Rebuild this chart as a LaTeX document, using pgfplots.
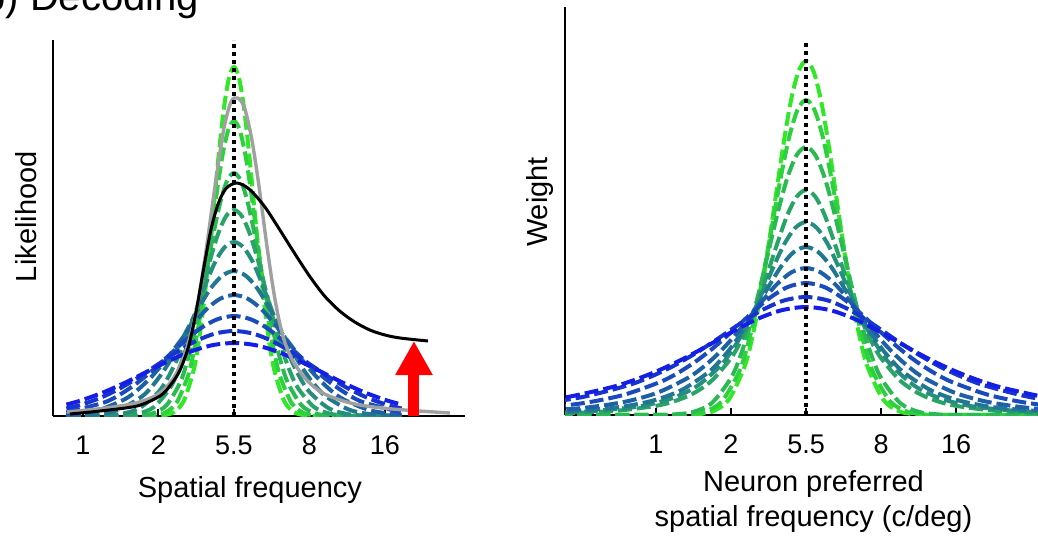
\documentclass[border=0pt]{standalone}
\usepackage{pgfplots}
\pgfplotsset{compat=1.18}
\usepackage{fontspec}
\setmainfont{Liberation Sans}
\usetikzlibrary{arrows.meta}
\definecolor{lg}{RGB}{50,230,40}
\definecolor{db}{RGB}{20,30,230}
\definecolor{gcurve}{RGB}{160,160,160}
\colorlet{c1}{db!0!lg}
\colorlet{c2}{db!11!lg}
\colorlet{c3}{db!22!lg}
\colorlet{c4}{db!33!lg}
\colorlet{c5}{db!44!lg}
\colorlet{c6}{db!56!lg}
\colorlet{c7}{db!67!lg}
\colorlet{c8}{db!78!lg}
\colorlet{c9}{db!89!lg}
\colorlet{c10}{db!100!lg}
\pgfplotsset{
  myaxis/.style={scale only axis, axis x line=bottom, axis y line=left,
    axis line style={-, line width=1.2pt}, ytick=\empty,
    xtick={0,1,2,3,4}, xticklabels={1,2,5.5,8,16},
    tick align=inside, major tick length=3.5pt,
    xtick style={line width=1pt,black},
    xticklabel style={font=\fontsize{13.5}{15}\selectfont, anchor=base, yshift=-19pt, inner sep=0pt},
    label style={font=\fontsize{14.5}{17.5}\selectfont},
    /pgf/number format/assume math mode=true,
    ymin=0},
  dc/.style={line width=2pt, dash pattern=on 7pt off 2.5pt, smooth, no markers},
  dotl/.style={black, line width=2pt, dash pattern=on 2pt off 2pt, no markers},
}
\begin{document}
\begin{tikzpicture}
\useasboundingbox (0,0) rectangle (519pt,269pt);
\node[anchor=base west, inner sep=0pt, font=\fontsize{20}{24}\selectfont] at (-8.5pt,264pt) {b) Decoding};
\begin{axis}[myaxis, at={(26.5pt,61pt)}, anchor=south west, width=206pt, height=188pt,
  xmin=-0.397, xmax=5.06, ymax=376,
  xlabel={Spatial frequency}, ylabel={Likelihood},
  xlabel style={at={(axis description cs:0.478,0)}, anchor=north, yshift=-30pt, inner sep=0pt},
  ylabel style={at={([xshift=-13.5pt]axis description cs:0,0.53)}, anchor=center, inner sep=0pt}]
\addplot[dc, c1] coordinates {(-0.22,0) (0.94,0.1) (1.072,0.8) (1.205,3.9) (1.337,15.3) (1.47,47.2) (1.536,75.5) (1.602,113.3) (1.669,159.8) (1.735,211.7) (1.801,263.4) (1.867,308.0) (1.934,338.3) (2,349) (2.066,338.3) (2.133,308.0) (2.199,263.4) (2.265,211.7) (2.331,159.8) (2.398,113.3) (2.464,75.5) (2.53,47.2) (2.663,15.3) (2.795,3.9) (2.928,0.8) (3.06,0.1) (4.22,0)};
\addplot[dc, c2] coordinates {(-0.22,0) (0.78,0.1) (0.932,0.6) (1.085,3.3) (1.237,13.0) (1.39,39.9) (1.466,63.8) (1.542,95.8) (1.619,135.1) (1.695,178.9) (1.771,222.7) (1.847,260.3) (1.924,285.9) (2,295) (2.076,285.9) (2.153,260.3) (2.229,222.7) (2.305,178.9) (2.381,135.1) (2.458,95.8) (2.534,63.8) (2.61,39.9) (2.763,13.0) (2.915,3.3) (3.068,0.6) (3.22,0.1) (4.22,0)};
\addplot[dc, c3] coordinates {(-0.22,0) (0.568,0.1) (0.747,0.5) (0.926,2.7) (1.105,10.7) (1.284,32.9) (1.373,52.6) (1.463,78.9) (1.552,111.2) (1.642,147.4) (1.731,183.4) (1.821,214.4) (1.91,235.5) (2,243) (2.09,235.5) (2.179,214.4) (2.269,183.4) (2.358,147.4) (2.448,111.2) (2.537,78.9) (2.627,52.6) (2.716,32.9) (2.895,10.7) (3.074,2.7) (3.253,0.5) (3.432,0.1) (4.22,0)};
\addplot[dc, c4] coordinates {(-0.22,0) (0.304,0.1) (0.516,0.5) (0.728,2.3) (0.94,9.0) (1.152,27.9) (1.258,44.6) (1.364,66.9) (1.47,94.3) (1.576,124.9) (1.682,155.5) (1.788,181.8) (1.894,199.7) (2,206) (2.106,199.7) (2.212,181.8) (2.318,155.5) (2.424,124.9) (2.53,94.3) (2.636,66.9) (2.742,44.6) (2.848,27.9) (3.06,9.0) (3.272,2.3) (3.484,0.5) (3.696,0.1) (4.22,0)};
\addplot[dc, c5] coordinates {(-0.22,0) (0.239,0.4) (0.491,1.9) (0.742,7.6) (0.994,23.5) (1.12,37.6) (1.245,56.5) (1.371,79.7) (1.497,105.5) (1.623,131.3) (1.748,153.6) (1.874,168.6) (2,174) (2.126,168.6) (2.252,153.6) (2.377,131.3) (2.503,105.5) (2.629,79.7) (2.755,56.5) (2.88,37.6) (3.006,23.5) (3.258,7.6) (3.509,1.9) (3.761,0.4) (4.22,0)};
\addplot[dc, c6] coordinates {(-0.22,0.2) (0.173,1.6) (0.477,6.4) (0.782,19.6) (0.934,31.4) (1.086,47.1) (1.239,66.4) (1.391,87.9) (1.543,109.4) (1.695,128.0) (1.848,140.5) (2,145) (2.152,140.5) (2.305,128.0) (2.457,109.4) (2.609,87.9) (2.761,66.4) (2.914,47.1) (3.066,31.4) (3.218,19.6) (3.523,6.4) (3.827,1.6) (4.22,0.2)};
\addplot[dc, c7] coordinates {(-0.22,1.2) (0.18,5.3) (0.544,16.4) (0.726,26.2) (0.908,39.3) (1.09,55.4) (1.272,73.4) (1.454,91.3) (1.636,106.8) (1.818,117.3) (2,121) (2.182,117.3) (2.364,106.8) (2.546,91.3) (2.728,73.4) (2.91,55.4) (3.092,39.3) (3.274,26.2) (3.456,16.4) (3.82,5.3) (4.22,1.2)};
\addplot[dc, c8] coordinates {(-0.22,3.6) (0.278,13.5) (0.493,21.6) (0.708,32.5) (0.924,45.8) (1.139,60.7) (1.354,75.5) (1.569,88.3) (1.785,96.9) (2,100) (2.215,96.9) (2.431,88.3) (2.646,75.5) (2.861,60.7) (3.076,45.8) (3.292,32.5) (3.507,21.6) (3.722,13.5) (4.22,3.6)};
\addplot[dc, c9] coordinates {(-0.22,7.5) (-0.014,11.5) (0.238,18.4) (0.489,27.6) (0.741,38.9) (0.993,51.6) (1.245,64.2) (1.496,75.0) (1.748,82.4) (2,85) (2.252,82.4) (2.504,75.0) (2.755,64.2) (3.007,51.6) (3.259,38.9) (3.511,27.6) (3.762,18.4) (4.014,11.5) (4.22,7.5)};
\addplot[dc, c10] coordinates {(-0.22,11.4) (-0.016,15.8) (0.272,23.7) (0.56,33.4) (0.848,44.3) (1.136,55.1) (1.424,64.4) (1.712,70.8) (2,73) (2.288,70.8) (2.576,64.4) (2.864,55.1) (3.152,44.3) (3.44,33.4) (3.728,23.7) (4.016,15.8) (4.22,11.4)};
\addplot[gcurve, line width=1.7pt, smooth, no markers] coordinates {(-0.212,4) (0.3,8) (0.7,13) (1.0,22) (1.2,38) (1.35,62) (1.5,105) (1.62,160) (1.74,225) (1.86,285) (1.96,314) (2.05,318) (2.14,308) (2.24,275) (2.34,225) (2.44,168) (2.54,118) (2.64,82) (2.76,58) (2.95,37) (3.2,22) (3.6,12) (4.1,7) (4.86,3)};
\addplot[black, line width=1.5pt, smooth, no markers] coordinates {(-0.172,2) (0.225,5) (0.715,10) (1.02,20) (1.15,30) (1.28,45) (1.40,70) (1.50,105) (1.60,148) (1.70,188) (1.80,214) (1.90,228) (2.04,233) (2.2,227) (2.4,210) (2.6,187) (2.8,163) (3.0,140) (3.2,120) (3.4,105) (3.6,94) (3.8,86) (4.0,81) (4.2,78) (4.57,75)};
\addplot[dotl] coordinates {(2,0) (2,376)};
\draw[red, line width=5.5pt, -{Triangle[width=17.5pt,length=17pt]}] (axis cs:4.384,0) -- (axis cs:4.384,75);
\end{axis}
\begin{axis}[myaxis, at={(282.5pt,61.5pt)}, anchor=south west, width=248.5pt, height=204pt,
  xmin=-1.213, xmax=5.413, ymax=408,
  xlabel={Neuron preferred\\spatial frequency (c/deg)}, ylabel={Weight},
  xlabel style={at={(axis description cs:0.5,0)}, anchor=north, yshift=-27.5pt, inner sep=0pt, align=center},
  ylabel style={at={([xshift=-12.5pt]axis description cs:0,0.522)}, anchor=center, inner sep=0pt}]
\addplot[dc, c1] coordinates {(-1.3,0) (0.356,0.1) (0.561,0.8) (0.767,3.9) (0.972,15.5) (1.178,47.9) (1.281,76.6) (1.383,114.9) (1.486,162.1) (1.589,214.7) (1.692,267.2) (1.794,312.4) (1.897,343.1) (2,354) (2.103,343.1) (2.206,312.4) (2.308,267.2) (2.411,214.7) (2.514,162.1) (2.617,114.9) (2.719,76.6) (2.822,47.9) (3.028,15.5) (3.233,3.9) (3.439,0.8) (3.644,0.1) (5.5,0)};
\addplot[dc, c2] coordinates {(-1.3,0) (0.208,0.1) (0.432,0.7) (0.656,3.5) (0.88,13.8) (1.104,42.6) (1.216,68.1) (1.328,102.3) (1.44,144.2) (1.552,191.0) (1.664,237.8) (1.776,278.0) (1.888,305.3) (2,315) (2.112,305.3) (2.224,278.0) (2.336,237.8) (2.448,191.0) (2.56,144.2) (2.672,102.3) (2.784,68.1) (2.896,42.6) (3.12,13.8) (3.344,3.5) (3.568,0.7) (3.792,0.1) (5.5,0)};
\addplot[dc, c3] coordinates {(-1.3,0) (-0.012,0.1) (0.239,0.6) (0.491,3.0) (0.742,11.8) (0.994,36.3) (1.12,58.0) (1.245,87.0) (1.371,122.7) (1.497,162.5) (1.623,202.3) (1.748,236.5) (1.874,259.7) (2,268) (2.126,259.7) (2.252,236.5) (2.377,202.3) (2.503,162.5) (2.629,122.7) (2.755,87.0) (2.88,58.0) (3.006,36.3) (3.258,11.8) (3.509,3.0) (3.761,0.6) (4.012,0.1) (5.5,0)};
\addplot[dc, c4] coordinates {(-1.521,1.3) (-1.018,2.3) (-0.515,4.3) (-0.012,9.0) (0.239,13.6) (0.491,21.3) (0.742,34.3) (0.994,56.3) (1.12,72.2) (1.245,92.2) (1.371,116.3) (1.497,144.0) (1.623,172.9) (1.748,199.3) (1.874,218.1) (2,225) (2.126,218.1) (2.252,199.3) (2.377,172.9) (2.503,144.0) (2.629,116.3) (2.755,92.2) (2.88,72.2) (3.006,56.3) (3.258,34.3) (3.509,21.3) (3.761,13.6) (4.012,9.0) (4.515,4.3) (5.018,2.3) (5.521,1.3)};
\addplot[dc, c5] coordinates {(-1.462,1.9) (-0.885,3.7) (-0.308,7.7) (-0.02,11.7) (0.269,18.3) (0.557,29.4) (0.846,48.3) (0.99,61.9) (1.134,79.1) (1.279,99.8) (1.423,123.5) (1.567,148.3) (1.711,171.0) (1.856,187.1) (2,193) (2.144,187.1) (2.289,171.0) (2.433,148.3) (2.577,123.5) (2.721,99.8) (2.866,79.1) (3.01,61.9) (3.154,48.3) (3.443,29.4) (3.731,18.3) (4.02,11.7) (4.308,7.7) (4.885,3.7) (5.462,1.9)};
\addplot[dc, c6] coordinates {(-1.942,1.7) (-1.285,3.2) (-0.628,6.7) (-0.3,10.2) (0.029,15.9) (0.357,25.6) (0.686,42.0) (0.85,53.9) (1.014,68.8) (1.179,86.9) (1.343,107.5) (1.507,129.1) (1.671,148.8) (1.836,162.9) (2,168) (2.164,162.9) (2.329,148.8) (2.493,129.1) (2.657,107.5) (2.821,86.9) (2.986,68.8) (3.15,53.9) (3.314,42.0) (3.643,25.6) (3.971,15.9) (4.3,10.2) (4.628,6.7) (5.285,3.2) (5.942,1.7)};
\addplot[dc, c7] coordinates {(-1.955,2.8) (-1.164,5.9) (-0.769,8.9) (-0.373,13.9) (0.022,22.4) (0.418,36.8) (0.616,47.2) (0.813,60.2) (1.011,76.0) (1.209,94.1) (1.407,113.0) (1.604,130.2) (1.802,142.5) (2,147) (2.198,142.5) (2.396,130.2) (2.593,113.0) (2.791,94.1) (2.989,76.0) (3.187,60.2) (3.384,47.2) (3.582,36.8) (3.978,22.4) (4.373,13.9) (4.769,8.9) (5.164,5.9) (5.955,2.8)};
\addplot[dc, c8] coordinates {(-1.892,5.3) (-1.406,8.0) (-0.919,12.5) (-0.433,20.1) (0.054,33.0) (0.297,42.3) (0.54,54.1) (0.784,68.3) (1.027,84.5) (1.27,101.5) (1.513,116.9) (1.757,128.0) (2,132) (2.243,128.0) (2.487,116.9) (2.73,101.5) (2.973,84.5) (3.216,68.3) (3.46,54.1) (3.703,42.3) (3.946,33.0) (4.433,20.1) (4.919,12.5) (5.406,8.0) (5.892,5.3)};
\addplot[dc, c9] coordinates {(-1.573,11.2) (-0.978,18.0) (-0.382,29.5) (-0.084,37.9) (0.213,48.3) (0.511,61.0) (0.809,75.5) (1.107,90.7) (1.404,104.5) (1.702,114.4) (2,118) (2.298,114.4) (2.596,104.5) (2.893,90.7) (3.191,75.5) (3.489,61.0) (3.787,48.3) (4.084,37.9) (4.382,29.5) (4.978,18.0) (5.573,11.2)};
\addplot[dc, c10] coordinates {(-1.951,10.2) (-1.293,16.4) (-0.634,27.0) (-0.305,34.6) (0.024,44.2) (0.354,55.8) (0.683,69.1) (1.012,83.0) (1.341,95.7) (1.671,104.7) (2,108) (2.329,104.7) (2.659,95.7) (2.988,83.0) (3.317,69.1) (3.646,55.8) (3.976,44.2) (4.305,34.6) (4.634,27.0) (5.293,16.4) (5.951,10.2)};
\addplot[dotl] coordinates {(2,0) (2,372)};
\end{axis}
\end{tikzpicture}
\end{document}
